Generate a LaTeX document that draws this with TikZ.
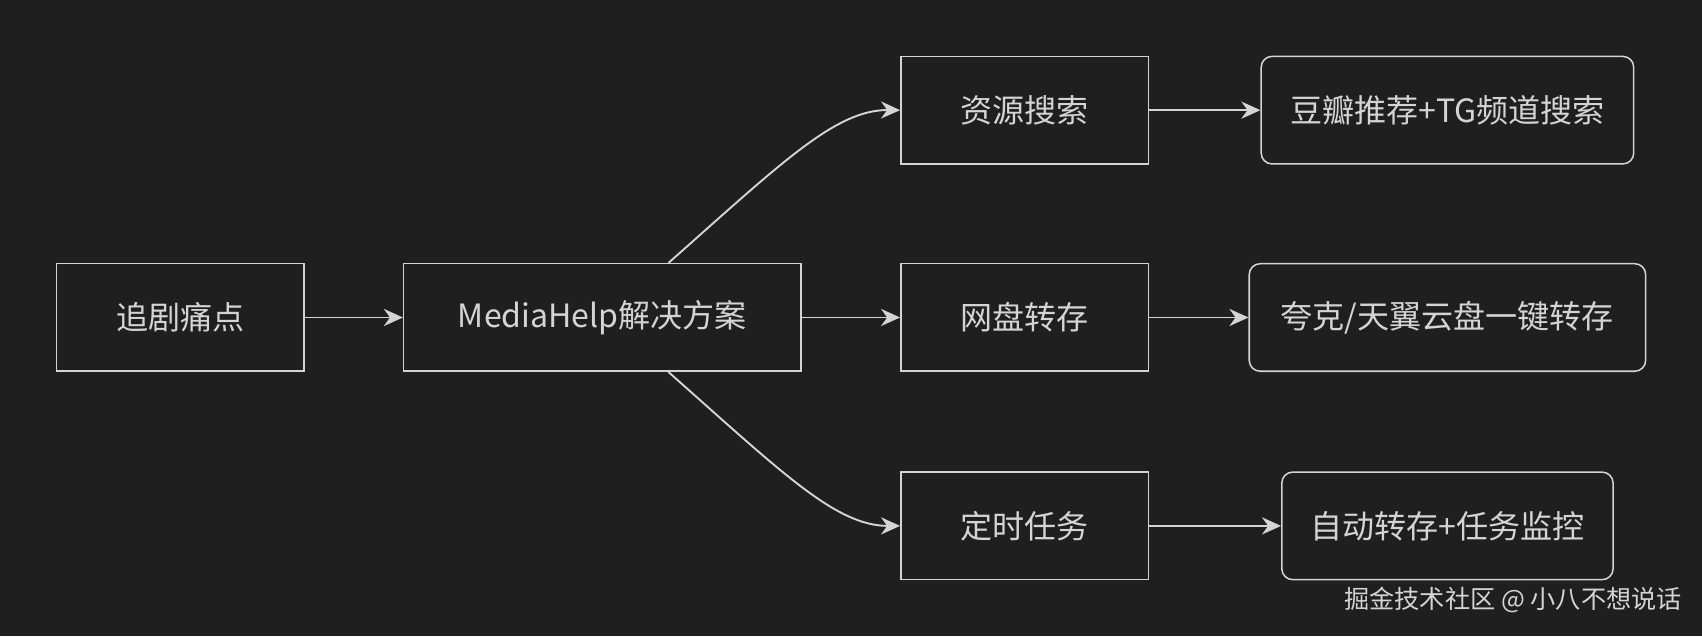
\documentclass[tikz,border=0pt]{standalone}
\usepackage{fontspec}
\setmainfont{Noto Sans CJK SC}
\usetikzlibrary{arrows.meta,positioning}
\definecolor{bgdark}{HTML}{1F1F1F}
\definecolor{linegray}{HTML}{D4D4D4}
\begin{document}
\begin{tikzpicture}
	[x=0.01cm,y=-0.01cm,
	 box/.style={draw=linegray,fill=bgdark,text=linegray,minimum height=0.99cm,font=\fontsize{8.4}{10}\selectfont,inner sep=0pt},
	 roundbox/.style={box,rounded corners=0.1cm},
	 flow/.style={-{Stealth[length=5pt,width=4.5pt]},draw=linegray,line width=0.5pt}]
\fill[bgdark] (0,0) rectangle (1568,586);
\useasboundingbox (0,0) rectangle (1568,586);
\node[box,minimum width=2.28cm] (pain) at (166,292.5) {追剧痛点};
\node[box,minimum width=3.66cm] (mh) at (555,292.5) {MediaHelp解决方案};
\node[box,minimum width=2.28cm] (search) at (944,101.5) {资源搜索};
\node[box,minimum width=2.28cm] (save) at (944,292.5) {网盘转存};
\node[box,minimum width=2.28cm] (task) at (944,484.5) {定时任务};
\node[roundbox,minimum width=3.43cm] (douban) at (1333.5,101.5) {豆瓣推荐+TG频道搜索};
\node[roundbox,minimum width=3.65cm] (quark) at (1333.5,292.5) {夸克/天翼云盘一键转存};
\node[roundbox,minimum width=3.05cm] (auto) at (1333.5,484.5) {自动转存+任务监控};
\node[text=linegray,font=\fontsize{6.6}{8}\selectfont] (mark) at (1394,553) {掘金技术社区 @ 小八不想说话};

\draw[flow] (pain) -- (mh);
\draw[flow] (mh) -- (save);
\draw[flow] (mh.north east) ++(-123,0) .. controls (720,150) and (770,101) .. (search.west);
\draw[flow] (mh.south east) ++(-123,0) .. controls (720,435) and (770,484.5) .. (task.west);
\draw[flow] (search) -- (douban);
\draw[flow] (save) -- (quark);
\draw[flow] (task) -- (auto);
\end{tikzpicture}
\end{document}
